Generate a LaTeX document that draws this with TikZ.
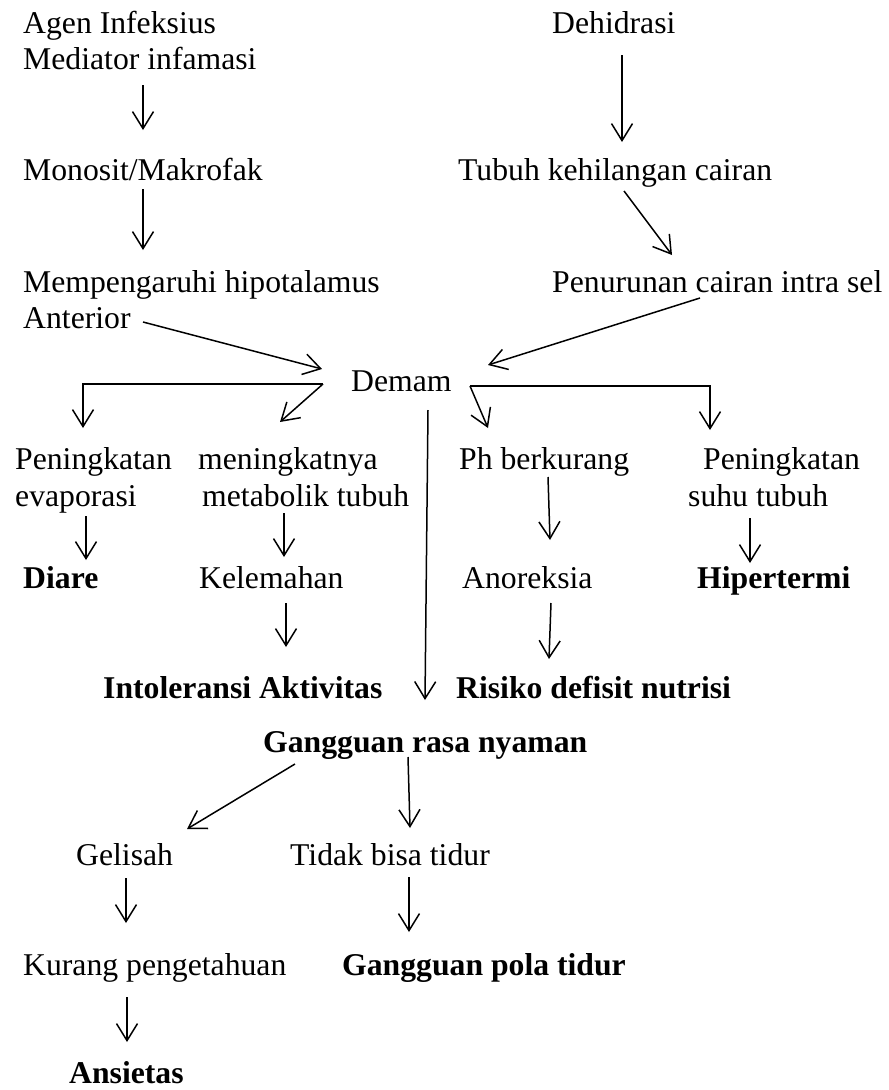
\documentclass[tikz,border=0pt]{standalone}
\usepackage{fontspec}
\setmainfont{Liberation Serif}
\usetikzlibrary{arrows.meta,calc}
\tikzset{
  lbl/.style={anchor=base west, inner sep=0pt, font=\fontsize{31.7}{36}\selectfont},
  blbl/.style={lbl, font=\fontsize{31.7}{36}\selectfont\bfseries},
  arr/.style={draw, line width=1.5pt, -{Straight Barb[length=17pt,width=21pt,line width=1.5pt]}},
  ln/.style={draw, line width=1.5pt}
}
\begin{document}
\begin{tikzpicture}[x=1pt,y=-1pt]
\useasboundingbox (0,0) rectangle (889,1090);
% nodes
\node[lbl] (agen) at (23,33) {Agen Infeksius};
\node[lbl] (med) at (23,69) {Mediator infamasi};
\node[lbl] (mono) at (23,180) {Monosit/Makrofak};
\node[lbl] (memp) at (23,292) {Mempengaruhi hipotalamus};
\node[lbl] (ant) at (23,328) {Anterior};
\node[lbl] (dehi) at (552,33) {Dehidrasi};
\node[lbl] (tubuh) at (458,180) {Tubuh kehilangan cairan};
\node[lbl] (penur) at (552,292) {Penurunan cairan intra sel};
\node[lbl] (demam) at (351,391) {Demam};
\node[lbl] (pena) at (15,469) {Peningkatan};
\node[lbl] (penb) at (15,506) {evaporasi};
\node[lbl] (mena) at (198,469) {meningkatnya};
\node[lbl] (menb) at (202,506) {metabolik tubuh};
\node[lbl] (ph) at (459,469) {Ph berkurang};
\node[lbl] (psa) at (703,469) {Peningkatan};
\node[lbl] (psb) at (688,506) {suhu tubuh};
\node[blbl] (diare) at (23,588) {Diare};
\node[lbl] (kelem) at (199,588) {Kelemahan};
\node[lbl] (anor) at (462,588) {Anoreksia};
\node[blbl] (hiper) at (697,588) {Hipertermi};
\node[blbl] (intol) at (103,698) {Intoleransi Aktivitas};
\node[blbl] (risiko) at (456,698) {Risiko defisit nutrisi};
\node[blbl] (gang) at (263,752) {Gangguan rasa nyaman};
\node[lbl] (gelis) at (76,865) {Gelisah};
\node[lbl] (tidak) at (290,865) {Tidak bisa tidur};
\node[lbl] (kurang) at (23,975) {Kurang pengetahuan};
\node[blbl] (pola) at (342,975) {Gangguan pola tidur};
\node[blbl] (ansi) at (69,1083) {Ansietas};
% connectors
\draw[arr] ($(med.base west)+(120,16)$) -- ($(mono.base west)+(120,-50)$);
\draw[arr] ($(mono.base west)+(120,9)$) -- ($(memp.base west)+(120,-42)$);
\draw[arr] ($(ant.base west)+(120,-6)$) -- ($(demam.base west)+(-29,-22)$);
\draw[arr] ($(dehi.base west)+(70,22)$) -- ($(tubuh.base west)+(164,-38)$);
\draw[arr] ($(tubuh.base west)+(166,11)$) -- ($(penur.base west)+(120,-37)$);
\draw[arr] ($(penur.base west)+(148,6)$) -- ($(demam.base west)+(137,-26)$);
% left bracket from Demam
\coordinate (dl) at ($(demam.base west)+(-28,-7)$);
\draw[arr] (dl) -| ($(pena.base west)+(68,-41)$);
\draw[arr] (dl) -- ($(mena.base west)+(82,-47)$);
% right bracket from Demam
\coordinate (dr) at ($(demam.base west)+(119,-5)$);
\draw[arr] (dr) -- ($(ph.base west)+(29,-41)$);
\draw[arr] (dr) -| ($(psa.base west)+(7,-39)$);
% second level
\draw[arr] ($(penb.base west)+(71,10)$) -- ($(diare.base west)+(63,-28)$);
\draw[arr] ($(menb.base west)+(82,7)$) -- ($(kelem.base west)+(85,-31)$);
\draw[arr] ($(kelem.base west)+(87,15)$) -- ($(intol.base west)+(183,-51)$);
\draw[arr] ($(demam.base west)+(77,19)$) -- ($(gang.base west)+(162,-52)$);
\draw[arr] ($(ph.base west)+(89,8)$) -- ($(anor.base west)+(88,-48)$);
\draw[arr] ($(anor.base west)+(89,15)$) -- ($(risiko.base west)+(93,-39)$);
\draw[arr] ($(psb.base west)+(62,12)$) -- ($(hiper.base west)+(53,-25)$);
% bottom part
\draw[arr] ($(gang.base west)+(32,12)$) -- ($(gelis.base west)+(111,-36)$);
\draw[arr] ($(gang.base west)+(145,5)$) -- ($(tidak.base west)+(120,-37)$);
\draw[arr] ($(gelis.base west)+(50,13)$) -- ($(kurang.base west)+(103,-52)$);
\draw[arr] ($(tidak.base west)+(119,12)$) -- ($(pola.base west)+(67,-43)$);
\draw[arr] ($(kurang.base west)+(104,22)$) -- ($(ansi.base west)+(58,-41)$);
\end{tikzpicture}
\end{document}
